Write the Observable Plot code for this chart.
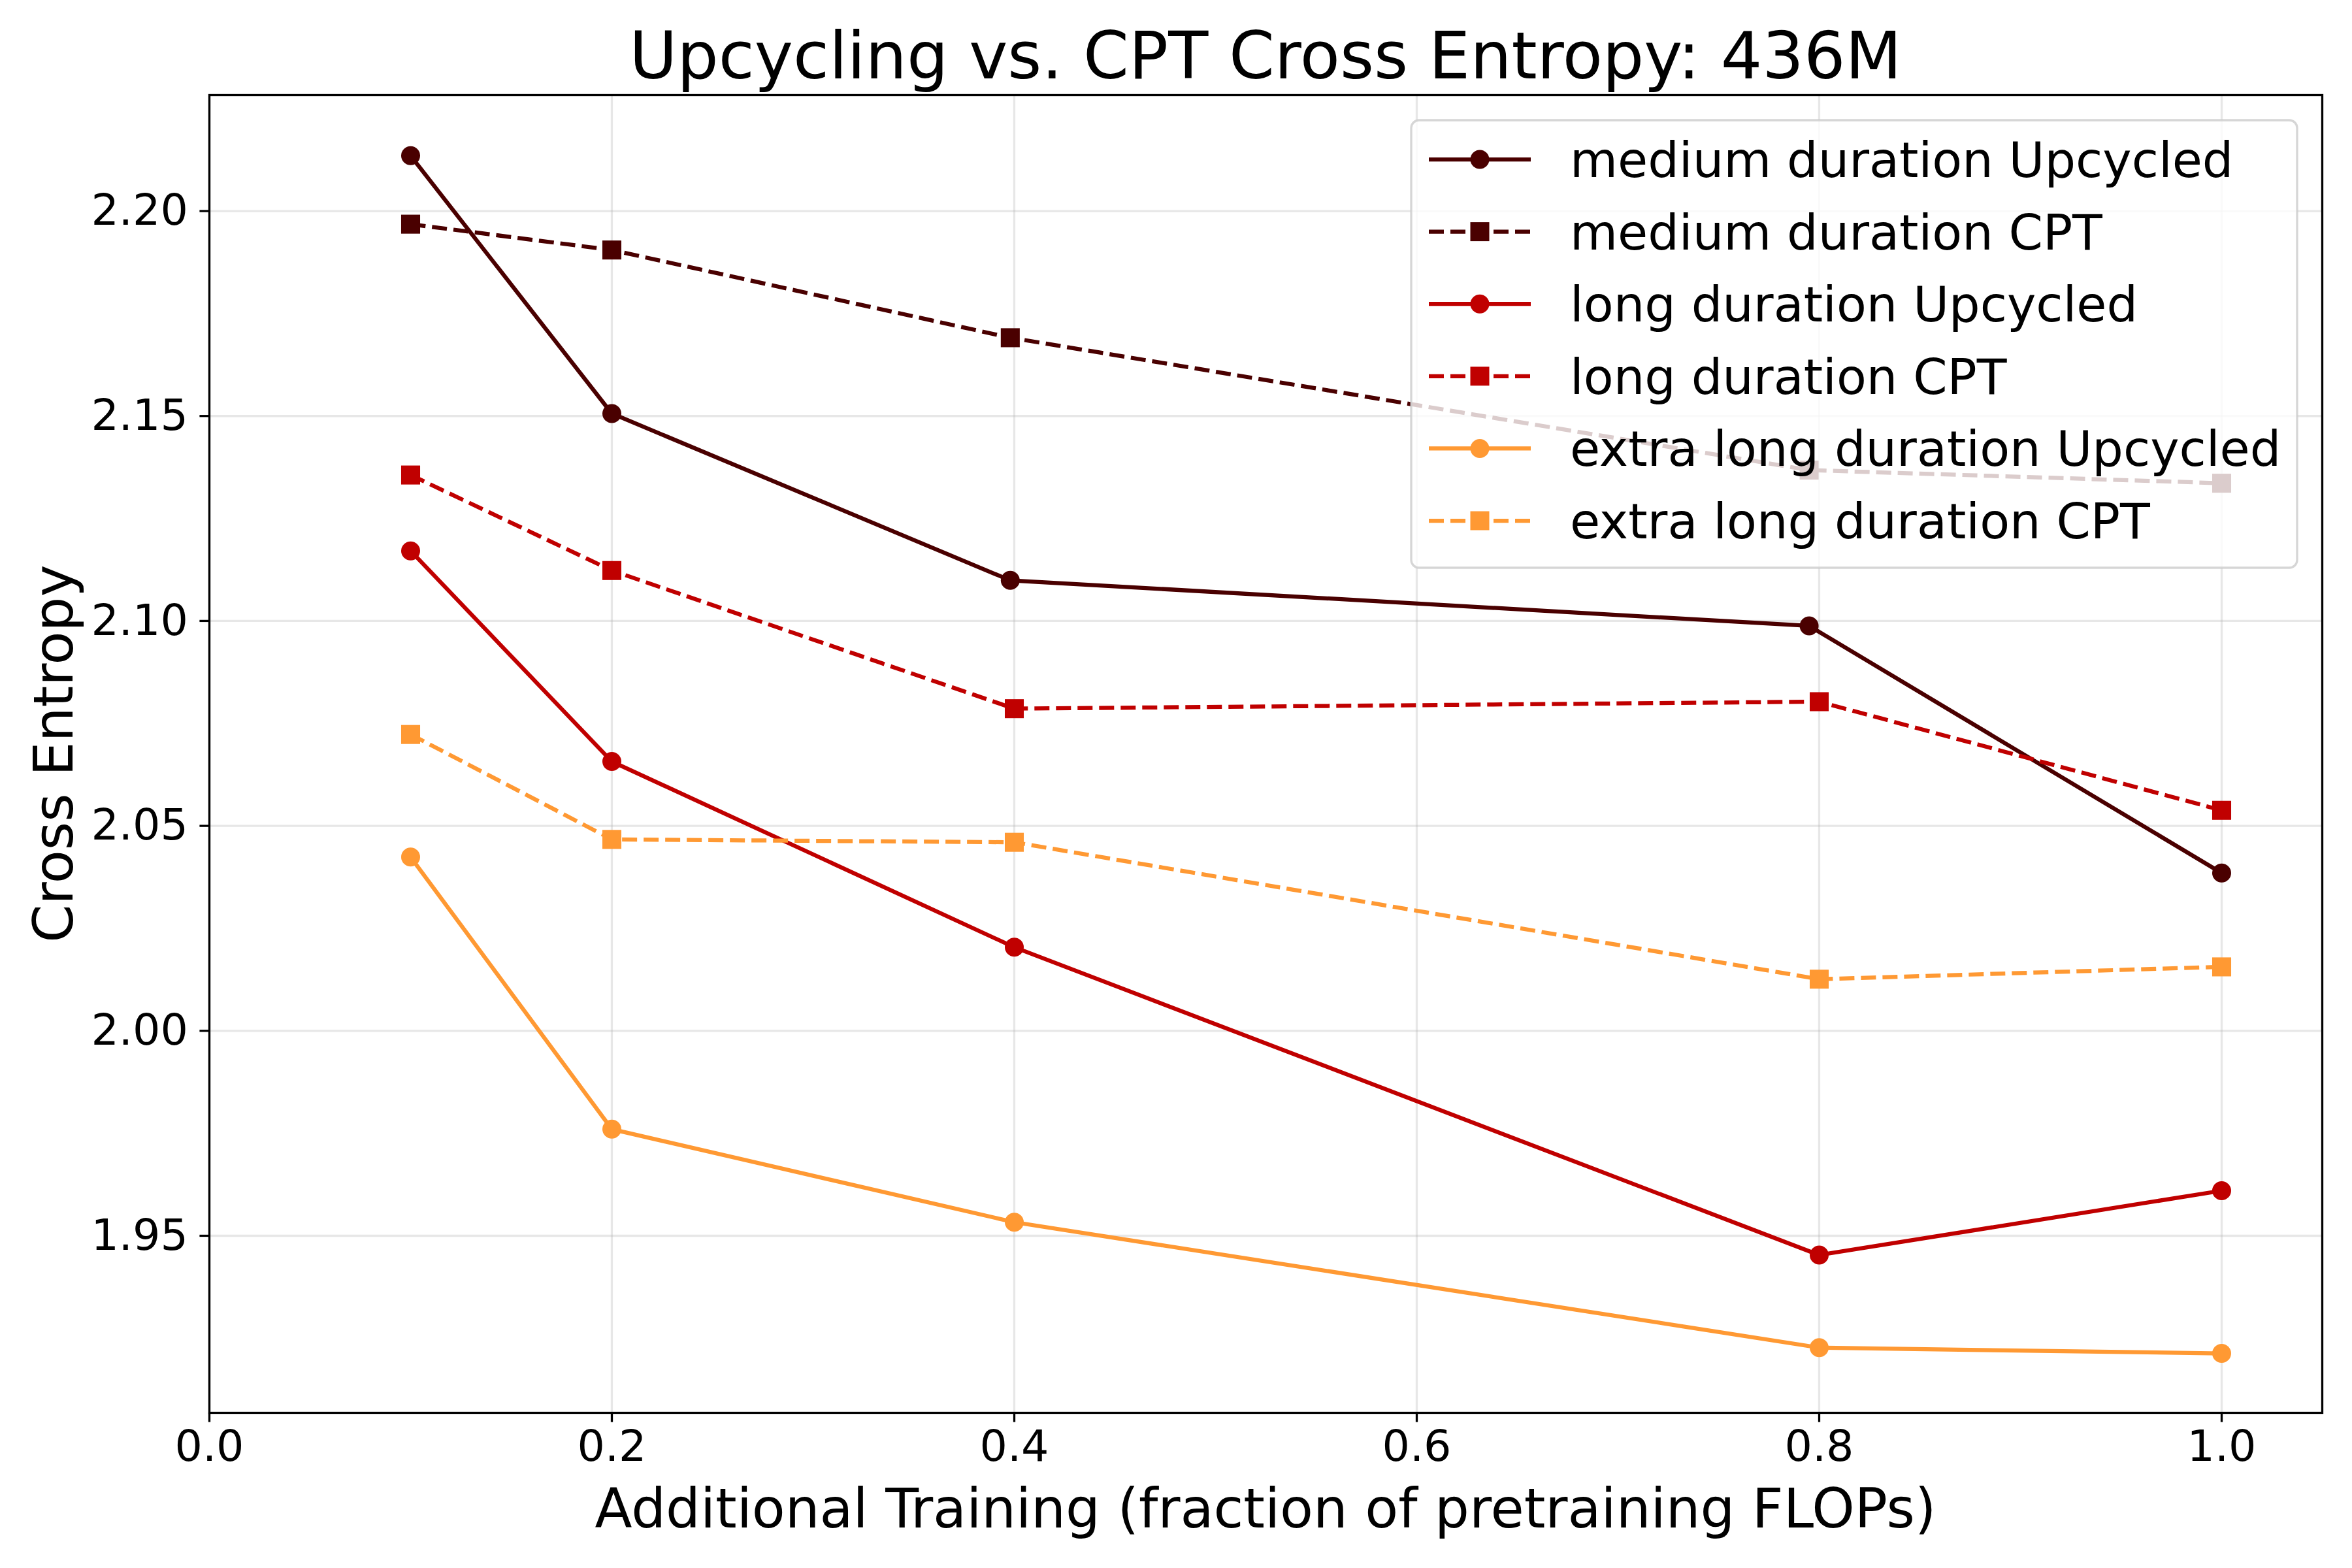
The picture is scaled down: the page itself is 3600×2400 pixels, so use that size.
<!DOCTYPE html>
<html>
<head>
<meta charset="utf-8">
<script src="https://cdn.jsdelivr.net/npm/d3@7"></script>
<script src="https://cdn.jsdelivr.net/npm/@observablehq/plot@0.6"></script>
<style>
  html, body { margin: 0; padding: 0; background: white; }
  #chart svg { display: block; }
</style>
</head>
<body>
<div id="chart"></div>
<script>
// ---- data ----
const mediumFractions = [0.1, 0.2, 0.398, 0.795, 1.0];
const fractions = [0.1, 0.2, 0.4, 0.8, 1.0];
const mediumUpcycled = [2.2135, 2.1506, 2.1099, 2.0988, 2.0385];
const mediumCPT = [2.1968, 2.1905, 2.1691, 2.1368, 2.1336];
const longUpcycled = [2.1171, 2.0657, 2.0204, 1.9453, 1.9610];
const longCPT = [2.1356, 2.1123, 2.0786, 2.0803, 2.0538];
const extraLongUpcycled = [2.0424, 1.9760, 1.9533, 1.9227, 1.9213];
const extraLongCPT = [2.0723, 2.0467, 2.0460, 2.0126, 2.0156];
const xTicks = [0.0, 0.2, 0.4, 0.6, 0.8, 1.0];
const yTicks = [1.95, 2.00, 2.05, 2.10, 2.15, 2.20];
const seriesNames = [
  "medium duration Upcycled", "medium duration CPT",
  "long duration Upcycled", "long duration CPT",
  "extra long duration Upcycled", "extra long duration CPT"
];
const titleText = "Upcycling vs. CPT Cross Entropy: 436M";
const xLabel = "Additional Training (fraction of pretraining FLOPs)";
const yLabel = "Cross Entropy";

const colors = {medium: "#4a0000", long: "#c00000", extra: "#ff9933"};
const series = [
  {name: seriesNames[0], xs: mediumFractions, ys: mediumUpcycled, color: colors.medium, dashed: false},
  {name: seriesNames[1], xs: mediumFractions, ys: mediumCPT, color: colors.medium, dashed: true},
  {name: seriesNames[2], xs: fractions, ys: longUpcycled, color: colors.long, dashed: false},
  {name: seriesNames[3], xs: fractions, ys: longCPT, color: colors.long, dashed: true},
  {name: seriesNames[4], xs: fractions, ys: extraLongUpcycled, color: colors.extra, dashed: false},
  {name: seriesNames[5], xs: fractions, ys: extraLongCPT, color: colors.extra, dashed: true}
];

const W = 3600, H = 2400;
const mL = 320, mR = 46, mT = 145, mB = 238;
const LW = 6.25, DASH = "23,10";
const font = "DejaVu Sans";

const marks = [
  Plot.gridX(xTicks, {stroke: "#b0b0b0", strokeOpacity: 0.3, strokeWidth: 3.3}),
  Plot.gridY(yTicks, {stroke: "#b0b0b0", strokeOpacity: 0.3, strokeWidth: 3.3}),
];
for (const s of series) {
  const rows = s.xs.map((x, i) => ({x, y: s.ys[i]}));
  marks.push(Plot.line(rows, {x: "x", y: "y", stroke: s.color, strokeWidth: LW,
    strokeDasharray: s.dashed ? DASH : null, strokeLinejoin: "round", strokeLinecap: "butt"}));
  marks.push(Plot.dot(rows, {x: "x", y: "y", fill: s.color, stroke: "none",
    symbol: s.dashed ? "square" : "circle", r: s.dashed ? 16.4 : 14.5}));
}
marks.push(
  Plot.axisX(xTicks, {tickFormat: d3.format(".1f"), tickSize: 14.6, tickPadding: 12, fontSize: 66.7, strokeWidth: 3.3, label: null}),
  Plot.axisY(yTicks, {tickFormat: d3.format(".2f"), tickSize: 14.6, tickPadding: 18, fontSize: 66.7, strokeWidth: 3.3, label: null}),
  Plot.frame({stroke: "black", strokeWidth: 3.3})
);

const plot = Plot.plot({
  width: W, height: H,
  marginLeft: mL, marginRight: mR, marginTop: mT, marginBottom: mB,
  style: {fontFamily: font, color: "black", background: "white", overflow: "visible"},
  x: {domain: [0, 1.05]},
  y: {domain: [1.9068, 2.2283]},
  marks
});
document.getElementById("chart").appendChild(plot);

const svg = d3.select(plot);
const cx = (mL + (W - mR)) / 2;
const cy = (mT + (H - mB)) / 2;
svg.append("text").attr("x", cx).attr("y", 120).attr("text-anchor", "middle")
  .attr("font-family", font).attr("font-size", 100).attr("fill", "black").text(titleText);
svg.append("text").attr("x", cx).attr("y", 2338).attr("text-anchor", "middle")
  .attr("font-family", font).attr("font-size", 83.3).attr("fill", "black").text(xLabel);
svg.append("text").attr("transform", `translate(111,${cy}) rotate(-90)`).attr("text-anchor", "middle")
  .attr("font-family", font).attr("font-size", 83.3).attr("fill", "black").text(yLabel);

// legend
const lg = svg.append("g").attr("text-anchor", "start");
lg.append("rect").attr("x", 2160).attr("y", 184).attr("width", 3516 - 2160).attr("height", 869 - 184)
  .attr("rx", 12).attr("fill", "white").attr("fill-opacity", 0.8)
  .attr("stroke", "#cccccc").attr("stroke-opacity", 0.8).attr("stroke-width", 3.3);
series.forEach((s, i) => {
  const y = 244 + i * 110.6;
  lg.append("line").attr("x1", 2187).attr("x2", 2343).attr("y1", y).attr("y2", y)
    .attr("stroke", s.color).attr("stroke-width", LW)
    .attr("stroke-dasharray", s.dashed ? DASH : null);
  if (s.dashed) {
    lg.append("rect").attr("x", 2265 - 14.5).attr("y", y - 14.5).attr("width", 29).attr("height", 29).attr("fill", s.color);
  } else {
    lg.append("circle").attr("cx", 2265).attr("cy", y).attr("r", 14.5).attr("fill", s.color);
  }
  lg.append("text").attr("x", 2403).attr("y", y + 27).attr("text-anchor", "start")
    .attr("font-family", font).attr("font-size", 75)
    .attr("fill", "black").text(s.name);
});
</script>
</body>
</html>
